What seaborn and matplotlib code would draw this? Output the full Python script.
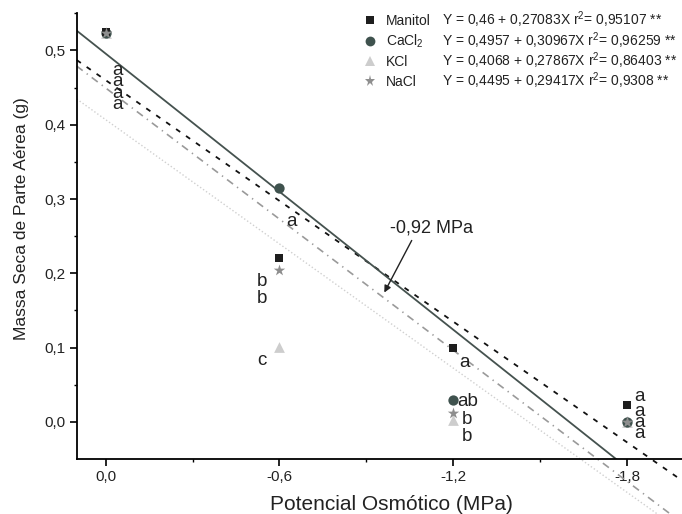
import numpy as np
import pandas as pd
import matplotlib
matplotlib.use("Agg")
import matplotlib.pyplot as plt
import seaborn as sns
from matplotlib.lines import Line2D
from matplotlib.ticker import FixedLocator, FixedFormatter

# ---------------- data ----------------
potenciais = [0.0, -0.6, -1.2, -1.8]
tratamentos = ["Manitol", "CaCl2", "KCl", "NaCl"]
manitol = [0.525, 0.220, 0.100, 0.023]
cacl2 = [0.524, 0.315, 0.029, 0.000]
kcl = [0.524, 0.101, 0.002, 0.000]
nacl = [0.524, 0.205, 0.012, 0.000]

intercepts = [0.46, 0.4957, 0.4068, 0.4495]
slopes = [0.27083, 0.30967, 0.27867, 0.29417]
r2_values = ["0,95107", "0,96259", "0,86403", "0,9308"]

letras_manitol = ["a", "b", "a", "a"]
letras_cacl2 = ["a", "a", "ab", "a"]
letras_kcl = ["a", "c", "b", "a"]
letras_nacl = ["a", "b", "b", "a"]

x_ticks = [0.0, -0.6, -1.2, -1.8]
x_ticklabels = ["0,0", "-0,6", "-1,2", "-1,8"]
y_ticks = [0.0, 0.1, 0.2, 0.3, 0.4, 0.5]
y_ticklabels = ["0,0", "0,1", "0,2", "0,3", "0,4", "0,5"]

# ---------------- style ----------------
sns.set_theme(style="ticks")
plt.rcParams["font.family"] = ["Liberation Sans", "DejaVu Sans"]
plt.rcParams["mathtext.fontset"] = "custom"
plt.rcParams["mathtext.rm"] = "Liberation Sans"
plt.rcParams["mathtext.it"] = "Liberation Sans:italic"
plt.rcParams["mathtext.bf"] = "Liberation Sans:bold"

TXT = "#222222"
colors = {"Manitol": "#1e1e1e", "CaCl2": "#3f524e", "KCl": "#cdcdcd", "NaCl": "#8e8e8e"}
markers = {"Manitol": "s", "CaCl2": "o", "KCl": "^", "NaCl": "*"}
sizes = {"Manitol": 40, "CaCl2": 55, "KCl": 60, "NaCl": 75}
line_colors = {"Manitol": "#111111", "CaCl2": "#45524f", "KCl": "#d0d0d0", "NaCl": "#9a9a9a"}
line_styles = {"Manitol": (0, (2.8, 3.9)), "CaCl2": "-", "KCl": (0, (1, 1.6)),
               "NaCl": (0, (4.5, 3.0, 0.8, 3.0))}
line_widths = {"Manitol": 1.3, "CaCl2": 1.3, "KCl": 1.0, "NaCl": 1.2}

W, H = 682, 514
fig = plt.figure(figsize=(W / 100, H / 100), dpi=100)
ax_left, ax_right, ax_bottom, ax_top = 76.7, 682.0, 459.0, 13.3
ax = fig.add_axes([ax_left / W, 1 - ax_bottom / H, (ax_right - ax_left) / W, (ax_bottom - ax_top) / H])

df = pd.DataFrame({
    "potencial": potenciais * 4,
    "massa": manitol + cacl2 + kcl + nacl,
    "tratamento": sum([[t] * 4 for t in tratamentos], []),
})

# regression lines from the fitted equations
xx = np.linspace(0.1, -2.0, 300)
for t, a, b in zip(tratamentos, intercepts, slopes):
    yy = a + b * xx
    ax.plot(xx, yy, color=line_colors[t], ls=line_styles[t], lw=line_widths[t],
            clip_on=(t == "CaCl2"), zorder=2)

# points
for t in ["KCl", "NaCl", "CaCl2", "Manitol"]:
    sub = df[df["tratamento"] == t]
    sns.scatterplot(data=sub, x="potencial", y="massa", marker=markers[t], color=colors[t],
                    s=sizes[t], linewidth=0, ax=ax, zorder=3, legend=False)
# NaCl star drawn on top where it overlaps at 0.0 and -1.8
top = df[(df["tratamento"] == "NaCl") & (df["potencial"].isin([0.0, -1.8]))]
sns.scatterplot(data=top, x="potencial", y="massa", marker="*", color=colors["NaCl"],
                s=sizes["NaCl"], linewidth=0, ax=ax, zorder=4, legend=False)

ax.set_xlim(0.1, -1.99)
ax.set_ylim(-0.05, 0.55)

ax.xaxis.set_major_locator(FixedLocator(x_ticks))
ax.xaxis.set_major_formatter(FixedFormatter(x_ticklabels))
ax.xaxis.set_minor_locator(FixedLocator([-0.3, -0.9, -1.5]))
ax.yaxis.set_major_locator(FixedLocator(y_ticks))
ax.yaxis.set_major_formatter(FixedFormatter(y_ticklabels))
ax.yaxis.set_minor_locator(FixedLocator([0.05, 0.15, 0.25, 0.35, 0.45, 0.55]))
ax.tick_params(axis="both", which="major", direction="out", length=5, width=1.2,
               labelsize=11, color="black", labelcolor=TXT, pad=3)
ax.tick_params(axis="both", which="minor", direction="out", length=2.5, width=1.0, color="black")
for s in ["top", "right"]:
    ax.spines[s].set_visible(False)
for s in ["left", "bottom"]:
    ax.spines[s].set_color("black")
    ax.spines[s].set_linewidth(1.3)
ax.set_xlabel("")
ax.set_ylabel("")
ax.grid(False)

fig.text(270 / W, 1 - 510 / H, "Potencial Osmótico (MPa)", ha="left", va="baseline",
         fontsize=15, color=TXT)
fig.text(22 / W, 1 - 219 / H, "Massa Seca de Parte Aérea (g)", ha="center", va="center",
         rotation=90, fontsize=12.5, color=TXT)

# significance letters (pixel layout, baseline)
fig.canvas.draw()
inv = ax.transData.inverted()
def px2data(px, py):
    return inv.transform((px, H - py))

letter_layout = {
    ("Manitol", 0): (112, 75), ("CaCl2", 0): (112, 86), ("KCl", 0): (112, 98), ("NaCl", 0): (112, 109),
    ("CaCl2", 1): (286, 226), ("Manitol", 1): (257, 286), ("NaCl", 1): (257, 303), ("KCl", 1): (257, 365),
    ("Manitol", 2): (459, 367), ("CaCl2", 2): (457, 406), ("NaCl", 2): (462, 424), ("KCl", 2): (462, 441),
    ("Manitol", 3): (634, 401), ("CaCl2", 3): (634, 416), ("NaCl", 3): (634, 427), ("KCl", 3): (634, 438),
}
letters = {"Manitol": letras_manitol, "CaCl2": letras_cacl2, "KCl": letras_kcl, "NaCl": letras_nacl}
for (t, i), (px, py) in letter_layout.items():
    x, y = px2data(px, py)
    ax.text(x, y, letters[t][i], ha="left", va="baseline", fontsize=13.5, color=TXT, zorder=5)

# arrow annotation
tx, ty = px2data(431, 228)
hx, hy = px2data(383, 295)
sx, sy = px2data(413, 238)
ax.annotate("", xy=(hx, hy), xytext=(sx, sy),
            arrowprops=dict(arrowstyle="-|>", color=TXT, lw=1.0, mutation_scale=10))
ax.text(tx, ty, "-0,92 MPa", ha="center", va="center", fontsize=13, color=TXT)

# legend (drawn row by row so that the equation columns line up as in the original)
names = {"Manitol": "Manitol", "CaCl2": "CaCl$_2$", "KCl": "KCl", "NaCl": "NaCl"}
row_y = [20, 41, 61, 81]
eq_x = [442, 442, 442, 442]
for k, (t, a, b, r2) in enumerate(zip(tratamentos, intercepts, slopes, r2_values)):
    fy = 1 - row_y[k] / H
    fig.add_artist(Line2D([370 / W], [fy], ls="none", marker=markers[t], color=colors[t],
                          markersize=np.sqrt(sizes[t]) * 0.95, markeredgewidth=0,
                          transform=fig.transFigure))
    fig.text(386 / W, 1 - (row_y[k] + 5) / H, names[t], ha="left", va="baseline",
             fontsize=10.0, color=TXT)
    eq = (f"Y = {str(a).replace('.', ',')} + {str(b).replace('.', ',')}X "
          f"r$^2$= {r2} **")
    fig.text(eq_x[k] / W, 1 - (row_y[k] + 5) / H, eq, ha="left", va="baseline",
             fontsize=10.0, color=TXT)

fig.savefig("out.png", dpi=100)
